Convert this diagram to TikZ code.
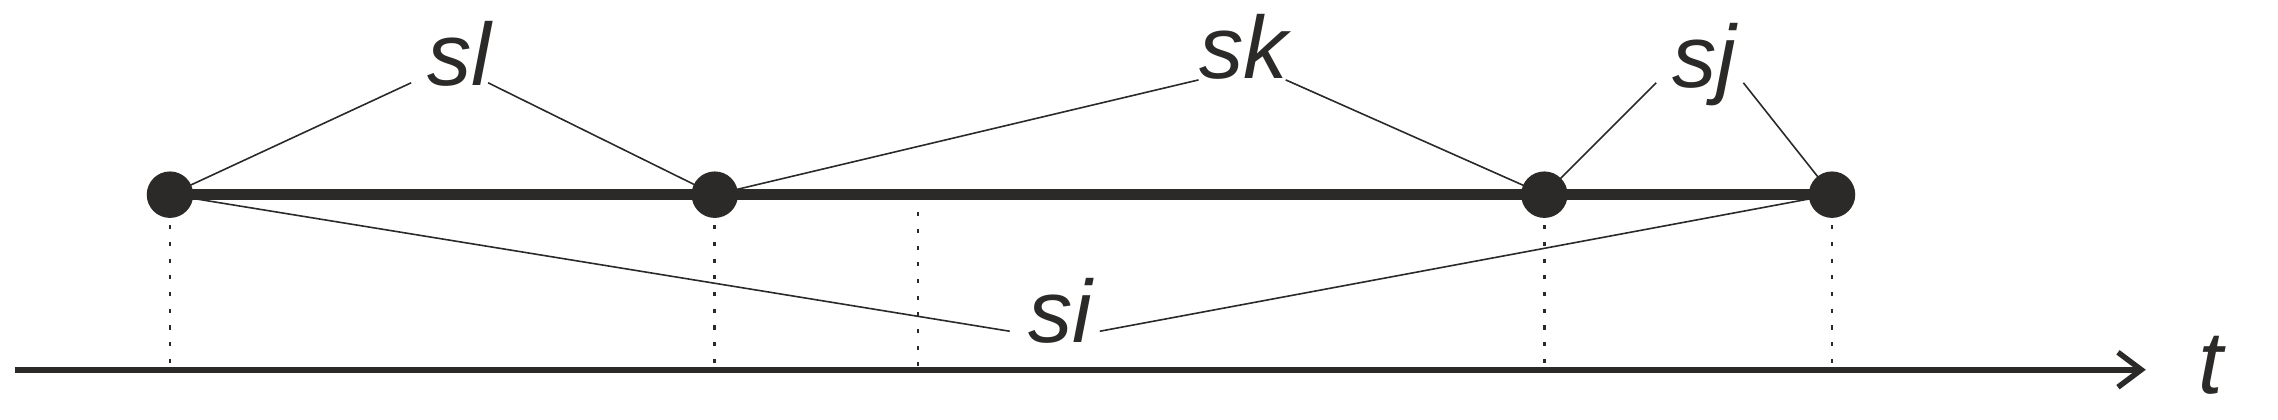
\documentclass[tikz,border=0pt]{standalone}
\usepackage{fontspec}
\setmainfont{Liberation Sans}
\usetikzlibrary{arrows.meta}
\definecolor{ink}{RGB}{43,42,41}
\tikzset{
  dotnode/.style={circle,fill=ink,inner sep=0pt,minimum size=32pt},
  lab/.style={font=\itshape\fontsize{61}{61}\selectfont,text=ink,inner sep=0pt,anchor=base},
  conn/.style={draw=ink,line width=1.1pt},
  guide/.style={draw=ink,line width=1.8pt,dash pattern=on 2.8pt off 8.7pt},
  bar/.style={draw=ink,line width=8pt},
  axisline/.style={draw=ink,line width=3.8pt,-{Straight Barb[length=16pt,width=24pt]}},
}
\begin{document}
\begin{tikzpicture}[x=1pt,y=-1pt]
\useasboundingbox (0,0) rectangle (1568,289);
% dots (coordinates)
\coordinate (p1) at (117,134);
\coordinate (p2) at (492,134);
\coordinate (p3) at (1063,134);
\coordinate (p4) at (1261,134);
% labels
\node[lab] (sl) at (316,59) {sl};
\node[lab] (sk) at (856,54) {sk};
\node[lab] (sj) at (1173,60) {sj};
\node[lab] (si) at (730,236) {si};
\node[lab] (t) at (1522,271) {t};
% free ends near labels
\coordinate (sla) at (283,57);
\coordinate (slb) at (336,57);
\coordinate (ska) at (825,55);
\coordinate (skb) at (885,55);
\coordinate (sja) at (1140,57);
\coordinate (sjb) at (1200,57);
\coordinate (sia) at (695,228);
\coordinate (sib) at (757,228);
% axis
\coordinate (ax0) at (10,254.5);
\coordinate (ax1) at (1477,254.5);
\coordinate (gtop) at (0,155);
\coordinate (g5top) at (632,146);
\coordinate (g5bot) at (632,252);
\draw[axisline] (ax0) -- (ax1);
% guides
\foreach \p in {p1,p2,p3,p4}{
  \draw[guide] (\p |- gtop) -- (\p |- g5bot);
}
\draw[guide] (g5top) -- (g5bot);
% thick bar
\draw[bar] (p1) -- (p4);
% connectors
\draw[conn] (p1) -- (sla);
\draw[conn] (slb) -- (p2);
\draw[conn] (p2) -- (ska);
\draw[conn] (skb) -- (p3);
\draw[conn] (sja) -- (p3);
\draw[conn] (sjb) -- (p4);
\draw[conn] (p1) -- (sia);
\draw[conn] (sib) -- (p4);
% dots on top
\node[dotnode] (d1) at (p1) {};
\node[dotnode] (d2) at (p2) {};
\node[dotnode] (d3) at (p3) {};
\node[dotnode] (d4) at (p4) {};
\end{tikzpicture}
\end{document}
